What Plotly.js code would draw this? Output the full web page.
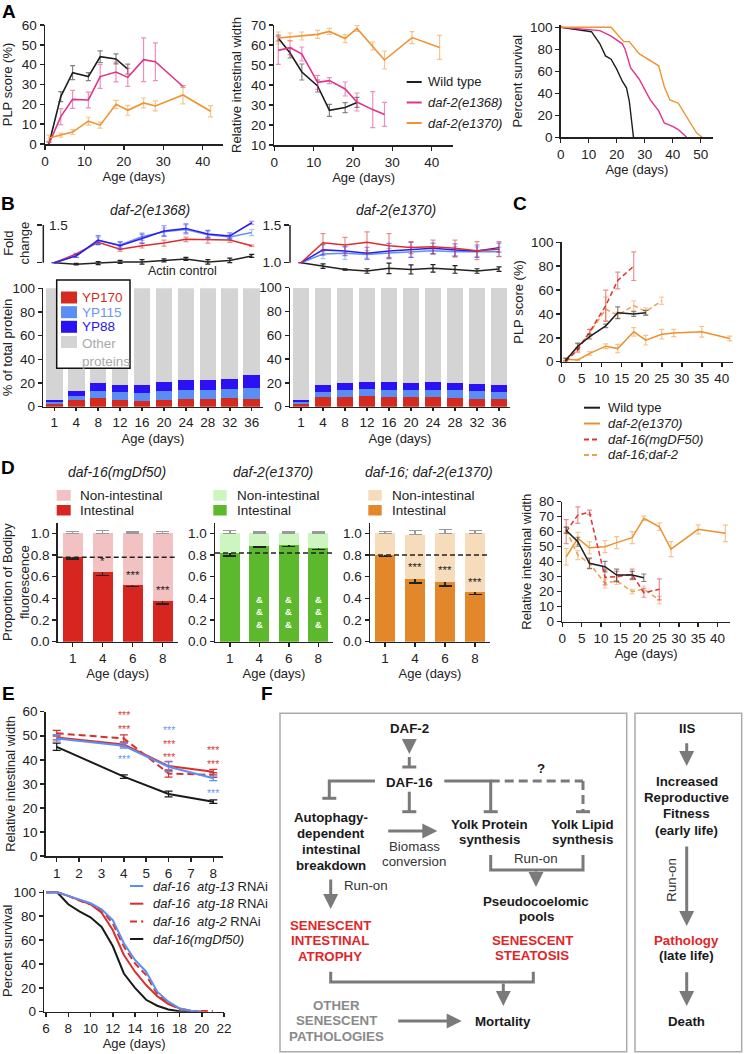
<!DOCTYPE html>
<html>
<head>
<meta charset="utf-8">
<script src="https://cdn.plot.ly/plotly-3.0.1.min.js"></script>
<style>html,body{margin:0;padding:0;background:#fff}#fig{width:744px;height:1054px}</style>
</head>
<body>
<div id="fig"></div>
<script>
// ---------- Panel A ----------
var ageA = [1, 4, 7, 11, 14, 18, 21, 25, 28, 35, 42];
var plpWt = [0, 23.9, 36, 34, 44, 42.9, 37.8];
var plpWtErr = [1, 2.5, 3.5, 2, 3, 2.5, 2.5];
var plp1368 = [0, 13.8, 22.5, 22.2, 34, 36.3, 33.6, 42.5, 41.5, 29];
var plp1368Err = [1, 4, 4.5, 4, 6, 5, 4.5, 11, 9.5, 0.5];
var plp1370 = [3, 4.5, 6, 11.5, 9.5, 20, 17, 20.7, 19.2, 24.7, 16.5];
var plp1370Err = [1.5, 1, 1.2, 2, 1.5, 2, 2.5, 2.5, 2.5, 4.5, 2.8];
var widthWt = [63.5, 56, 46.5, 39.5, 27.3, 28.7, 31.3];
var widthWtErr = [1.5, 2.5, 4, 3, 3, 2.5, 2.5];
var width1368 = [57.3, 58.7, 55.5, 41.3, 42.2, 38, 31.5, 27.7, 25.3];
var width1368Err = [7, 3.5, 3.5, 3.5, 1.5, 3.5, 4.5, 9, 6];
var width1370 = [63.5, 64, 64.5, 65.3, 66.8, 63.2, 68.3, 59.5, 52.5, 63.7, 58.8];
var width1370Err = [3, 2, 2, 2, 1.5, 2, 1.5, 2, 4.5, 3, 6];
var survWtDays = [0, 11, 14, 16, 18, 20, 22, 23.5, 24.5, 26];
var survWt = [100, 96, 85, 74, 71, 62, 51, 45, 33, 0];
var surv1368Days = [0, 11, 14, 18, 22, 23, 25, 28, 30, 32, 35, 37, 40, 42, 45];
var surv1368 = [100, 98, 97, 92, 85, 80, 63, 53, 43, 34, 24, 13, 10, 7, 0];
var surv1370Days = [0, 18, 22.5, 24.5, 28, 35, 37, 39, 42, 48.5, 50.5];
var surv1370 = [100, 100, 87, 87, 76, 65, 46, 34, 31, 4, 0];
var strainsA = ['Wild type', '<i>daf-2(e1368)</i>', '<i>daf-2(e1370)</i>'];

// ---------- Panel B ----------
var ageB = ['1', '4', '8', '12', '16', '20', '24', '28', '32', '36'];
var yp170_1368 = [2.5, 5.6, 7.0, 5.9, 5.1, 5.4, 6.2, 6.2, 7.3, 6.2];
var yp115_1368 = [1.5, 3.7, 6.5, 6.2, 6.2, 7.6, 7.6, 7.6, 7.9, 9.9];
var yp88_1368 = [1.5, 4.2, 6.8, 6.5, 7.3, 8.1, 8.5, 8.5, 8.2, 10.7];
var yp170_1370 = [2.2, 8.1, 8.4, 9.2, 8.4, 7.8, 7.8, 7.6, 6.7, 6.4];
var yp115_1370 = [1.5, 4.2, 5.6, 5.6, 5.9, 5.9, 6.2, 6.1, 6.2, 5.6];
var yp88_1370 = [2.3, 5.6, 5.9, 5.9, 6.4, 6.5, 6.7, 6.2, 6.1, 5.9];
var fc170_1368 = [1.0, 1.115, 1.27, 1.18, 1.225, 1.26, 1.31, 1.30, 1.30, 1.225];
var fc115_1368 = [1.0, 1.09, 1.29, 1.235, 1.345, 1.41, 1.44, 1.37, 1.34, 1.40];
var fc88_1368 = [1.0, 1.09, 1.30, 1.225, 1.32, 1.42, 1.455, 1.38, 1.355, 1.53];
var actin_1368 = [1.0, 0.98, 0.995, 1.01, 1.01, 1.03, 1.05, 1.01, 1.03, 1.09];
var fc170_1368Err = [0, 0.01, 0.02, 0.03, 0.03, 0.04, 0.03, 0.04, 0.03, 0.01];
var fc115_1368Err = [0, 0.02, 0.05, 0.04, 0.05, 0.05, 0.06, 0.05, 0.03, 0.04];
var fc88_1368Err = [0, 0.02, 0.06, 0.05, 0.06, 0.07, 0.06, 0.05, 0.04, 0.02];
var actin_1368Err = [0, 0.01, 0.02, 0.02, 0.03, 0.02, 0.02, 0.03, 0.03, 0.02];
var fc170_1370 = [1.0, 1.265, 1.235, 1.27, 1.225, 1.20, 1.21, 1.19, 1.16, 1.18];
var fc115_1370 = [1.0, 1.115, 1.125, 1.11, 1.13, 1.14, 1.16, 1.145, 1.14, 1.145];
var fc88_1370 = [1.0, 1.17, 1.155, 1.125, 1.155, 1.17, 1.19, 1.17, 1.155, 1.20];
var actin_1370 = [1.0, 0.955, 0.91, 0.89, 0.925, 0.91, 0.925, 0.91, 0.89, 0.915];
var fc170_1370Err = [0, 0.12, 0.1, 0.14, 0.16, 0.08, 0.09, 0.11, 0.12, 0.1];
var fc115_1370Err = [0, 0.06, 0.08, 0.05, 0.06, 0.07, 0.05, 0.07, 0.07, 0.06];
var fc88_1370Err = [0, 0.07, 0.06, 0.08, 0.1, 0.1, 0.07, 0.08, 0.08, 0.06];
var actin_1370Err = [0, 0.03, 0.01, 0.03, 0.07, 0.06, 0.05, 0.05, 0.03, 0.03];
var proteinsB = ['YP170', 'YP115', 'YP88', 'Other<br>proteins'];

// ---------- Panel C ----------
var ageC = [1, 4, 7, 11, 14, 18, 21, 25, 28, 35, 42];
var cPlpWt = [1, 13, 21, 30, 41, 40, 41];
var cPlpWtErr = [1.5, 2.5, 2, 1.5, 5, 2, 2];
var cPlpDaf16 = [0, 10, 25, 47, 68, 80];
var cPlpDaf16Err = [1, 2, 2, 13, 7, 12];
var cPlpDouble = [2, 12, 24, 44, 39, 47, 42, 51];
var cPlpDoubleErr = [1.5, 3, 3, 10, 2.5, 4, 3, 3];
var cPlp1370 = [2, 1.5, 7, 13, 11, 25, 18, 23, 24, 25, 19.5];
var cPlp1370Err = [1.5, 0.5, 1.5, 2, 3.5, 3.5, 4, 4, 3, 4.5, 2];
var cWidthWt = [61, 53.3, 38.9, 36.7, 31.1, 31.1, 29.3];
var cWidthWtErr = [2, 3, 3.5, 3.5, 4, 2.5, 2.5];
var cWidthDaf16 = [60, 71.1, 72.9, 29.6, 30, 31.6, 19.3, 21.6];
var cWidthDaf16Err = [8, 5.5, 1.5, 5, 3.5, 3.5, 3, 7];
var cWidth1370 = [43.3, 55.6, 49.3, 50, 52.7, 56, 68.9, 63.3, 48.4, 61.6, 58.9];
var cWidth1370Err = [5.5, 4, 4, 4, 4, 4, 1.5, 2.5, 5, 3, 5.5];
var cWidthDouble = [61.1, 44.4, 38.9, 25.6, 27.3, 20, 21.8, 14.4];
var cWidthDoubleErr = [2, 3, 3, 3, 2.5, 1.5, 2, 2.5];
var strainsC = ['Wild type', '<i>daf-2(e1370)</i>', '<i>daf-16(mgDF50)</i>', '<i>daf-16;daf-2</i>'];

// ---------- Panel D ----------
var ageD = ['1', '4', '6', '8'];
var intDaf16 = [0.785, 0.64, 0.523, 0.375];
var intDaf16Err = [0.02, 0.03, 0.015, 0.025];
var totDaf16 = [1, 1, 1, 1];
var totDaf16Err = [0.02, 0.025, 0.015, 0.02];
var intDaf2 = [0.815, 0.885, 0.89, 0.865];
var intDaf2Err = [0.025, 0.012, 0.012, 0.015];
var totDaf2 = [1, 1, 1, 1];
var totDaf2Err = [0.025, 0.015, 0.015, 0.015];
var intDouble = [0.80, 0.578, 0.55, 0.458];
var intDoubleErr = [0.015, 0.035, 0.035, 0.02];
var totDouble = [1, 0.99, 1, 1];
var totDoubleErr = [0.02, 0.035, 0.035, 0.025];
var day1Daf16 = 0.78, day1Daf2 = 0.82, day1Double = 0.80;
var starsDaf16 = ['', '*', '***', '***'];
var starsDouble = ['', '***', '***', '***'];
var ampDaf2 = ['', '&', '&', '&'];

// ---------- Panel E ----------
var ageE = [1, 4, 6, 8];
var eWidthMg = [45.4, 33, 25.8, 22.6];
var eWidthMgErr = [1.5, 0.7, 1.2, 0.7];
var eWidthAtg13 = [48.9, 45.8, 37.1, 32.3];
var eWidthAtg13Err = [1.5, 1, 2, 1];
var eWidthAtg18 = [49.3, 46.4, 37.4, 35];
var eWidthAtg18Err = [1, 1, 2, 1];
var eWidthAtg2 = [51, 48.9, 34.3, 33.7];
var eWidthAtg2Err = [1.2, 1.5, 1.5, 1];
var eSurvDays = [6, 7, 8, 9, 10, 11, 12, 13, 14, 15, 16, 17, 18, 19, 20, 21];
var eSurvMg = [100, 100, 90, 84, 79, 71, 55, 32, 20, 10, 5, 1.8, 0.3, 0];
var eSurvAtg13 = [100, 100, 97, 93.6, 90.8, 85.8, 76.8, 57.3, 43.3, 33.5, 16.8, 8.4, 2.8, 0.8, 0];
var eSurvAtg18 = [100, 100, 97, 93.6, 90, 83, 68.4, 47.5, 33.5, 22.3, 13, 6.4, 2.8, 0.8, 0];
var eSurvAtg2 = [100, 100, 97, 93, 90, 85, 74, 54.5, 40.5, 30.7, 14.8, 7, 2.2, 0.8, 0.5, 0.5];
var strainsE = ['<i>daf-16\u00a0\u00a0atg-13</i> RNAi', '<i>daf-16\u00a0\u00a0atg-18</i> RNAi',
                '<i>daf-16\u00a0\u00a0atg-2</i> RNAi', '<i>daf-16(mgDf50)</i>'];

// ---------- helpers ----------
var W = 744, H = 1054;
var FONT = 'Liberation Sans, Arial, Helvetica, sans-serif';
var INK = '#222222', GREY = '#7a7a7a';
var traces = [], shapes = [], ann = [];
var layout = {
  width: W, height: H, margin: {l: 0, r: 0, t: 0, b: 0},
  paper_bgcolor: '#ffffff', plot_bgcolor: 'rgba(0,0,0,0)',
  showlegend: false, barmode: 'stack',
  font: {family: FONT, size: 13, color: INK},
  shapes: shapes, annotations: ann
};
function fx(p) { return p / W; }
function fy(p) { return 1 - p / H; }
function id(n) { return n === 1 ? '' : String(n); }
function rgba(hex, a) {
  var n = parseInt(hex.slice(1), 16);
  return 'rgba(' + (n >> 16 & 255) + ',' + (n >> 8 & 255) + ',' + (n & 255) + ',' + a + ')';
}
var AX = {
  showgrid: false, zeroline: false, showline: true, linecolor: INK, linewidth: 1.5,
  ticks: 'outside', ticklen: 4, tickwidth: 1.5, tickcolor: INK,
  tickfont: {size: 13.5, color: INK}, fixedrange: true
};
function T(text, standoff) { return {text: text, standoff: standoff, font: {size: 13, color: INK}}; }
function setAxes(n, xpx, ypx, xo, yo) {
  layout['xaxis' + id(n)] = Object.assign({}, AX, {domain: [fx(xpx[0]), fx(xpx[1])], anchor: 'y' + id(n)}, xo);
  layout['yaxis' + id(n)] = Object.assign({}, AX, {domain: [fy(ypx[1]), fy(ypx[0])], anchor: 'x' + id(n)}, yo);
}
function addLine(n, x, y, err, color, o) {
  o = o || {};
  var t = {type: 'scatter', mode: 'lines', x: x, y: y, xaxis: 'x' + id(n), yaxis: 'y' + id(n),
    line: {color: color, width: o.width || 1.6, dash: o.dash || 'solid'}, hoverinfo: 'skip'};
  if (err) t.error_y = {type: 'data', array: err, visible: true, color: o.errColor || rgba(color, 0.55),
    thickness: 1.2, width: o.cap || 2.5};
  traces.push(t);
}
function addBar(n, x, y, color, w, err) {
  var t = {type: 'bar', x: x, y: y, xaxis: 'x' + id(n), yaxis: 'y' + id(n), width: w,
    marker: {color: color, line: {width: 0}}, hoverinfo: 'skip'};
  if (err) t.error_y = err;
  traces.push(t);
}
function txt(x, y, t, o) {
  ann.push(Object.assign({xref: 'paper', yref: 'paper', x: fx(x), y: fy(y), text: t, showarrow: false,
    xanchor: 'center', yanchor: 'middle', font: {size: 13, color: INK}}, o || {}));
}
function rect(x0, y0, x1, y1, fill, lineColor, lw) {
  shapes.push({type: 'rect', xref: 'paper', yref: 'paper', x0: fx(x0), y0: fy(y0), x1: fx(x1), y1: fy(y1),
    fillcolor: fill || 'rgba(0,0,0,0)', line: {color: lineColor || 'rgba(0,0,0,0)', width: lw || 0}});
}
function legendLines(names, colors, dashes, x0, x1, tx, ys) {
  names.forEach(function (nm, i) {
    shapes.push({type: 'line', xref: 'paper', yref: 'paper', x0: fx(x0), x1: fx(x1), y0: fy(ys[i]), y1: fy(ys[i]),
      line: {color: colors[i], width: 2, dash: dashes[i]}});
    txt(tx, ys[i], nm, {xanchor: 'left'});
  });
}
function letter(x, y, L) { txt(x, y, '<b>' + L + '</b>', {font: {size: 19, color: '#000'}}); }
var DASH_C = '5px,3px', DASH_E = '7px,4px';

// ---------- Panel A ----------
var cWt = '#1e1e1e', c1368 = '#e0348b', c1370 = '#ee9430';
setAxes(1, [45, 223], [25, 144], {range: [0, 45.15], dtick: 10, title: T('Age (days)', 0)},
  {range: [0, 60], dtick: 10, title: T('PLP score (%)', 6)});
addLine(1, ageA.slice(0, 7), plpWt, plpWtErr, cWt);
addLine(1, ageA.slice(0, 10), plp1368, plp1368Err, c1368);
addLine(1, ageA, plp1370, plp1370Err, c1370);

setAxes(2, [274.3, 453], [25, 145], {range: [0, 45.4], dtick: 10, title: T('Age (days)', 0)},
  {range: [10, 70], dtick: 10, title: T('Relative intestinal width', 6)});
addLine(2, ageA.slice(0, 7), widthWt, widthWtErr, cWt);
addLine(2, ageA.slice(0, 9), width1368, width1368Err, c1368);
addLine(2, ageA, width1370, width1370Err, c1370);
legendLines(strainsA, [cWt, c1368, c1370], ['solid', 'solid', 'solid'], 406.7, 421.7, 426, [82, 102.5, 123]);

setAxes(3, [560.7, 713], [25.1, 137.3], {range: [0, 54.4], dtick: 10, title: T('Age (days)', 0)},
  {range: [0, 102], dtick: 20, title: T('Percent survival', 4)});
addLine(3, survWtDays, survWt, null, cWt, {width: 1.4});
addLine(3, surv1368Days, surv1368, null, c1368, {width: 1.4});
addLine(3, surv1370Days, surv1370, null, c1370, {width: 1.4});
letter(9, 11, 'A');

// ---------- Panel B ----------
var cR = '#d52b1e', cLB = '#5a8ef5', cB = '#2a12f2', cGr = '#d4d4d4';
var lR = '#dc2d2d', lLB = '#5f92f7', lB = '#2d1cf0';
function foldRange() { return [1 - 19.3 / 75.4, 1 + 47.7 / 75.4]; }
function otherOf(a, b, c) { return a.map(function (v, i) { return 100 - v - b[i] - c[i]; }); }
var catB = [-0.5, ageB.length - 0.5];

setAxes(4, [43.3, 262.7], [215, 282], {type: 'category', range: catB, showline: false, ticks: '', showticklabels: false},
  {range: foldRange(), tickvals: [1, 1.5], ticktext: ['', ''], showline: false, ticklen: 5});
addLine(4, ageB, actin_1368, actin_1368Err, INK, {width: 1.5, errColor: INK});
addLine(4, ageB, fc170_1368, fc170_1368Err, lR, {width: 1.5});
addLine(4, ageB, fc115_1368, fc115_1368Err, lLB, {width: 1.5});
addLine(4, ageB, fc88_1368, fc88_1368Err, lB, {width: 1.5});
shapes.push({type: 'line', xref: 'x4 domain', yref: 'y4', x0: 0, x1: 0, y0: 1, y1: 1.5, line: {color: INK, width: 1.5}});
ann.push({xref: 'x4 domain', yref: 'y4', x: 0.015, y: 1.5, text: '1.5', showarrow: false, xanchor: 'left',
  font: {size: 13.5, color: INK}});
txt(16.5, 243, 'Fold<br>change', {textangle: -90});
txt(182, 271, 'Actin control', {font: {size: 12.5, color: INK}});

setAxes(5, [43.3, 262.7], [288.3, 406.7], {type: 'category', range: catB, ticklen: 3, title: T('Age (days)', 4)},
  {range: [0, 100], dtick: 20, title: T('% of total protein', 3)});
addBar(5, ageB, yp170_1368, cR, 0.76);
addBar(5, ageB, yp115_1368, cLB, 0.76);
addBar(5, ageB, yp88_1368, cB, 0.76);
addBar(5, ageB, otherOf(yp170_1368, yp115_1368, yp88_1368), cGr, 0.76);

setAxes(6, [290, 510], [215, 282], {type: 'category', range: catB, showline: false, ticks: '', showticklabels: false},
  {range: foldRange(), tickvals: [1, 1.5], ticktext: ['1.0', '1.5'], showline: false, ticklen: 5});
addLine(6, ageB, actin_1370, actin_1370Err, INK, {width: 1.5, errColor: INK});
addLine(6, ageB, fc115_1370, fc115_1370Err, lLB, {width: 1.5});
addLine(6, ageB, fc88_1370, fc88_1370Err, lB, {width: 1.5});
addLine(6, ageB, fc170_1370, fc170_1370Err, lR, {width: 1.5});
shapes.push({type: 'line', xref: 'x6 domain', yref: 'y6', x0: 0, x1: 0, y0: 1, y1: 1.5, line: {color: INK, width: 1.5}});

setAxes(7, [290, 510], [287.7, 406.7], {type: 'category', range: catB, ticklen: 3, title: T('Age (days)', 4)},
  {range: [0, 100], dtick: 20});
addBar(7, ageB, yp170_1370, cR, 0.76);
addBar(7, ageB, yp115_1370, cLB, 0.76);
addBar(7, ageB, yp88_1370, cB, 0.76);
addBar(7, ageB, otherOf(yp170_1370, yp115_1370, yp88_1370), cGr, 0.76);

txt(150, 210, '<i>daf-2(e1368)</i>', {font: {size: 14, color: INK}});
txt(396, 210, '<i>daf-2(e1370)</i>', {font: {size: 14, color: INK}});
rect(56.7, 280, 130, 368.3, '#ffffff', '#111111', 1.5);
[cR, cLB, cB, cGr].forEach(function (c, i) {
  var yc = [297.5, 312.2, 326.8, 342][i];
  rect(61, yc - 6, 77, yc + 6, c);
  txt(79.5, i === 3 ? 352.5 : yc, proteinsB[i], {xanchor: 'left', align: 'left',
    font: {size: 13.5, color: [cR, '#6a98f5', cB, '#a9a9a9'][i]}});
});
letter(8, 203, 'B');

// ---------- Panel C ----------
var cRed = '#e03232', cOr = '#ec9130', cOrD = '#eda04e';
setAxes(8, [561.7, 733], [242.3, 361.7], {range: [0, 42.8], dtick: 5},
  {range: [0, 100], dtick: 20, title: T('PLP score (%)', 4)});
addLine(8, ageC, cPlp1370, cPlp1370Err, cOr, {width: 1.5});
addLine(8, ageC.slice(0, 8), cPlpDouble, cPlpDoubleErr, cOrD, {width: 1.5, dash: DASH_C});
addLine(8, ageC.slice(0, 6), cPlpDaf16, cPlpDaf16Err, cRed, {width: 1.5, dash: DASH_C});
addLine(8, ageC.slice(0, 7), cPlpWt, cPlpWtErr, cWt, {width: 1.5});

setAxes(9, [562.3, 730], [501.7, 621.7], {range: [0, 43.2], dtick: 5, title: T('Age (days)', 0)},
  {range: [0, 80], dtick: 10, title: T('Relative intestinal width', 4)});
addLine(9, ageC, cWidth1370, cWidth1370Err, cOr, {width: 1.5});
addLine(9, ageC.slice(0, 8), cWidthDouble, cWidthDoubleErr, cOrD, {width: 1.5, dash: DASH_C});
addLine(9, ageC.slice(0, 8), cWidthDaf16, cWidthDaf16Err, cRed, {width: 1.5, dash: DASH_C});
addLine(9, ageC.slice(0, 7), cWidthWt, cWidthWtErr, cWt, {width: 1.5});
legendLines(strainsC, [cWt, cOr, cRed, cOrD], ['solid', 'solid', DASH_C, DASH_C], 584, 600, 605.5,
  [407.7, 423.5, 439.5, 455]);
letter(520, 203, 'C');

// ---------- Panel D ----------
var dPanels = [
  {n: 10, x: [57.7, 177.7], ic: '#d6261f', nc: '#f2c1c1', int: intDaf16, ie: intDaf16Err, tot: totDaf16, te: totDaf16Err,
   base: day1Daf16, title: '<i>daf-16(mgDf50)</i>', tx: 117, sq: [56.7, 70.7], lx: 78.3},
  {n: 11, x: [215, 333], ic: '#5cb82c', nc: '#ccf5c0', int: intDaf2, ie: intDaf2Err, tot: totDaf2, te: totDaf2Err,
   base: day1Daf2, title: '<i>daf-2(e1370)</i>', tx: 273, sq: [213.3, 226.7], lx: 235},
  {n: 12, x: [370, 490], ic: '#e2882a', nc: '#f7dcbc', int: intDouble, ie: intDoubleErr, tot: totDouble, te: totDoubleErr,
   base: day1Double, title: '<i>daf-16; daf-2(e1370)</i>', tx: 429, sq: [368.3, 381.7], lx: 390}
];
dPanels.forEach(function (p, k) {
  setAxes(p.n, p.x, [522.6, 641.7], {type: 'category', range: [-0.5, ageD.length - 0.5], title: T('Age (days)', 1)},
    {range: [0, 1.1], tickvals: [0, 0.2, 0.4, 0.6, 0.8, 1.0], tickformat: '.1f',
     title: k === 0 ? T('Proportion of Bodipy<br>fluorescence', 4) : undefined});
  addBar(p.n, ageD, p.int, p.ic, 0.667,
    {type: 'data', array: p.ie, color: INK, thickness: 1.5, width: 6.5});
  addBar(p.n, ageD, p.tot.map(function (v, i) { return v - p.int[i]; }), p.nc, 0.667,
    {type: 'data', symmetric: false, array: p.te, arrayminus: p.te.map(function () { return 0; }),
     color: '#9a9a9a', thickness: 1.5, width: 6.5});
  shapes.push({type: 'line', xref: 'x' + p.n + ' domain', yref: 'y' + p.n, x0: 0, x1: 1, y0: p.base, y1: p.base,
    line: {color: INK, width: 1.5, dash: DASH_C}});
  txt(p.tx, 472, p.title, {font: {size: 14, color: INK}});
  rect(p.sq[0], 490, p.sq[1], 500.7, p.nc);
  rect(p.sq[0], 505, p.sq[1], 515.5, p.ic);
  txt(p.lx, 495.5, 'Non-intestinal', {xanchor: 'left', font: {size: 13.5, color: INK}});
  txt(p.lx, 510.5, 'Intestinal', {xanchor: 'left', font: {size: 13.5, color: INK}});
});
// annotations on category axes take the category index
ageD.forEach(function (d, i) {
  if (starsDaf16[i]) ann.push({xref: 'x10', yref: 'y10', x: i, y: intDaf16[i] + intDaf16Err[i], text: starsDaf16[i],
    showarrow: false, yanchor: 'bottom', font: {size: 11.5, color: INK}});
  if (starsDouble[i]) ann.push({xref: 'x12', yref: 'y12', x: i, y: intDouble[i] + intDoubleErr[i], text: starsDouble[i],
    showarrow: false, yanchor: 'bottom', font: {size: 11.5, color: INK}});
  if (ampDaf2[i]) ann.push({xref: 'x11', yref: 'y11', x: i, y: 0.277, text: '<b>' + [ampDaf2[i], ampDaf2[i], ampDaf2[i]].join('<br>') + '</b>',
    showarrow: false, font: {size: 9.5, color: '#ffffff'}});
});
letter(8, 467, 'D');

// ---------- Panel E ----------
var eBlue = '#5b8ff2', eRed = '#d9302c', eBlk = '#1a1a1a';
setAxes(13, [45.7, 223.3], [711.7, 856], {range: [0.508, 8.447], dtick: 1},
  {range: [0, 60], dtick: 10, title: T('Relative intestinal width', 4)});
addLine(13, ageE, eWidthMg, eWidthMgErr, eBlk, {width: 2, errColor: eBlk, cap: 4});
addLine(13, ageE, eWidthAtg18, eWidthAtg18Err, eRed, {width: 2, errColor: eRed, cap: 4});
addLine(13, ageE, eWidthAtg2, eWidthAtg2Err, eRed, {width: 2, dash: DASH_E, errColor: eRed, cap: 4});
addLine(13, ageE, eWidthAtg13, eWidthAtg13Err, eBlue, {width: 2, errColor: eBlue, cap: 4});
var starRed = '#e0393a', starBlue = '#6e98f5';
function stars(cols) {
  return cols.map(function (c) { return '<span style="color:' + c + '">***</span>'; }).join('<br>');
}
[[4, 56.4, [starRed, starRed]], [4, 41.0, [starBlue]],
 [6, 47.8, [starBlue, starRed, starRed]],
 [8, 42.0, [starRed, starRed]], [8, 27.2, [starBlue]]].forEach(function (s) {
  ann.push({xref: 'x13', yref: 'y13', x: s[0], y: s[1], yshift: -2, text: stars(s[2]), showarrow: false,
    font: {size: 10.5, color: starRed}});
});

setAxes(14, [44.3, 224], [889.9, 1011.7], {range: [5.847, 22], dtick: 2, title: T('Age (days)', 1)},
  {range: [0, 102], dtick: 20, title: T('Percent survival', 4)});
addLine(14, eSurvDays.slice(0, eSurvMg.length), eSurvMg, null, eBlk, {width: 2});
addLine(14, eSurvDays.slice(0, eSurvAtg18.length), eSurvAtg18, null, eRed, {width: 2});
addLine(14, eSurvDays.slice(0, eSurvAtg2.length), eSurvAtg2, null, eRed, {width: 2, dash: DASH_E});
addLine(14, eSurvDays.slice(0, eSurvAtg13.length), eSurvAtg13, null, eBlue, {width: 2});
legendLines(strainsE, [eBlue, eRed, eRed, eBlk], ['solid', 'solid', DASH_E, 'solid'], 130, 143.3, 151,
  [886, 903.7, 921.4, 939]);
letter(8, 693, 'E');

// ---------- Panel F (diagram) ----------
function seg(x0, y0, x1, y1, dash) {
  shapes.push({type: 'line', xref: 'paper', yref: 'paper', x0: fx(x0), y0: fy(y0), x1: fx(x1), y1: fy(y1),
    line: {color: GREY, width: 3, dash: dash || 'solid'}});
}
function poly(pts) {
  var d = pts.map(function (p, i) { return (i ? 'L' : 'M') + fx(p[0]) + ',' + fy(p[1]); }).join(' ');
  shapes.push({type: 'path', xref: 'paper', yref: 'paper', path: d, line: {color: GREY, width: 3}});
}
function arrow(x0, y0, x1, y1) {
  ann.push({xref: 'paper', yref: 'paper', x: fx(x1), y: fy(y1), ax: x0 - x1, ay: y0 - y1, axref: 'pixel', ayref: 'pixel',
    text: '', showarrow: true, arrowhead: 2, arrowsize: 1, arrowwidth: 3, arrowcolor: GREY, standoff: 0});
}
function block(x, y) { seg(x - 7, y, x + 7, y); }
function words(x, y, lines, o) {
  o = o || {};
  lines.forEach(function (l, i) {
    txt(x, y + i * (o.dy || 15.5), o.bold === false ? l : '<b>' + l + '</b>',
      {font: {size: 13.3, color: o.color || '#1a1a1a'}, textangle: o.angle || 0});
  });
}
rect(280, 713.3, 626.7, 1051.7, null, '#ababab', 1.5);
rect(635, 713.3, 741.7, 1051.7, null, '#ababab', 1.5);

words(409.3, 728.3, ['DAF-2']);
arrow(409.3, 739, 409.3, 754);
seg(409.3, 757, 409.3, 767); block(409.3, 767);
words(409.3, 782.3, ['DAF-16']);
poly([[375, 781], [329.3, 781], [329.3, 798.3]]); block(329.3, 798.3);
seg(409.3, 791.7, 409.3, 811.7); block(409.3, 811.7);
poly([[444.3, 781], [490.7, 781], [490.7, 811.7]]); block(490.7, 811.7);
seg(490.7, 781, 583, 781, '9px,5px'); seg(583, 781, 583, 811.7, '9px,5px'); block(583, 811.7);
words(541, 768.3, ['?']);
words(331, 817.5, ['Autophagy-', 'dependent', 'intestinal', 'breakdown'], {dy: 16});
arrow(386.7, 831, 437.3, 831);
words(414.3, 846, ['Biomass', 'conversion'], {bold: false, color: '#333333', dy: 15});
words(489.5, 824, ['Yolk Protein', 'synthesis'], {dy: 15});
words(582.5, 824, ['Yolk Lipid', 'synthesis'], {dy: 15});
poly([[490.7, 855], [490.7, 870], [583, 870], [583, 855]]);
words(536, 858.3, ['Run-on'], {bold: false, color: '#333333'});
arrow(536, 870, 536, 887);
words(536, 901.7, ['Pseudocoelomic', 'pools'], {dy: 15});
words(532, 940.7, ['SENESCENT', 'STEATOSIS'], {color: '#e0262a', dy: 15});
arrow(330.7, 878, 330.7, 909);
words(365.5, 885, ['Run-on'], {bold: false, color: '#333333'});
words(330, 925, ['SENESCENT', 'INTESTINAL', 'ATROPHY'], {color: '#e0262a', dy: 15.5});
poly([[330.7, 971.7], [330.7, 982], [533.3, 982], [533.3, 971.7]]);
arrow(503.3, 982, 503.3, 1006);
words(336, 1005, ['OTHER', 'SENESCENT', 'PATHOLOGIES'], {color: '#8a8a8a', dy: 15.5});
arrow(396.7, 1021, 461.7, 1021);
words(503.3, 1021.7, ['Mortality']);

words(686.7, 728.3, ['IIS']);
arrow(686.7, 741.7, 686.7, 766);
words(686.7, 781.7, ['Increased', 'Reproductive', 'Fitness', '(early life)'], {dy: 16.1});
arrow(686.7, 845, 686.7, 926);
words(670.7, 880, ['Run-on'], {bold: false, color: '#333333', angle: -90});
words(686.7, 940.7, ['Pathology'], {color: '#e0262a'});
words(686.7, 955.7, ['(late life)']);
arrow(686.7, 970.7, 686.7, 1006);
words(686.7, 1021.7, ['Death']);
letter(267, 693, 'F');

Plotly.newPlot('fig', traces, layout, {staticPlot: true, displayModeBar: false});
</script>
</body>
</html>
